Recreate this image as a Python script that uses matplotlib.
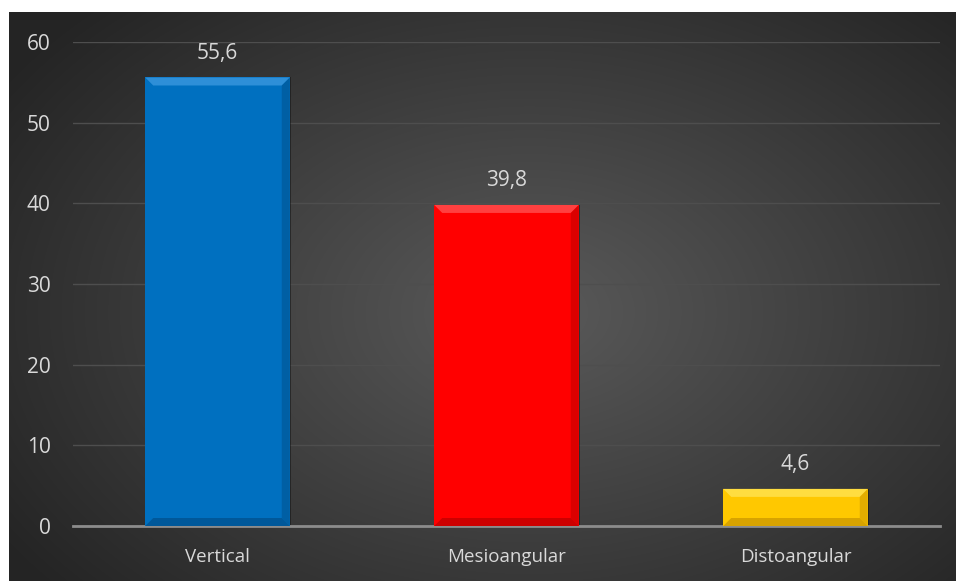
import matplotlib
matplotlib.use("Agg")
import matplotlib.pyplot as plt
import numpy as np
from matplotlib.patches import Polygon, Rectangle

categories = ["Vertical", "Mesioangular", "Distoangular"]
values = [55.6, 39.8, 4.6]
labels = ["55,6", "39,8", "4,6"]
colors = ["#0070C0", "#FF0000", "#FFC800"]
light = ["#2E8FD8", "#FF4040", "#FFDD40"]
dark = ["#004F8A", "#B80000", "#C89400"]
yticks = [0, 10, 20, 30, 40, 50, 60]

plt.rcParams['font.family'] = ['Open Sans', 'DejaVu Sans']
W, H = 956, 581
fig = plt.figure(figsize=(W/100, H/100), dpi=100)
fig.patch.set_facecolor("white")

# background with radial gradient
bg = fig.add_axes([9/W, 0, 1 - 9/W, (H-12)/H])
bg.set_axis_off()
yy, xx = np.mgrid[0:569, 0:947]
cx, cy = 520, 300
r = np.sqrt(((xx-cx)/620)**2 + ((yy-cy)/420)**2)
r = np.clip(r, 0, 1)
c0 = np.array([0x5A, 0x5A, 0x5A]) / 255
c1 = np.array([0x25, 0x25, 0x25]) / 255
img = c0[None, None, :] * (1 - r[..., None]) + c1[None, None, :] * r[..., None]
bg.imshow(img, aspect="auto", extent=[0, 1, 0, 1])

ax = fig.add_axes([73/W, (H-526)/H, (940-73)/W, (526-42)/H])
ax.set_facecolor("none")
ax.set_xlim(-0.5, 2.5)
ax.set_ylim(0, 60)
ax.set_yticks(yticks)
ax.set_xticks(range(len(categories)))
ax.set_xticklabels(categories)
for s in ["top", "right", "left"]:
    ax.spines[s].set_visible(False)
ax.spines["bottom"].set_color("#8C8C8C")
ax.spines["bottom"].set_linewidth(2)
ax.tick_params(axis="both", length=0, colors="#D9D9D9")
ax.tick_params(axis="y", pad=16, labelsize=15)
ax.tick_params(axis="x", pad=16, labelsize=13.5)
ax.grid(axis="y", color="#4E4E4E", linewidth=1)
ax.set_axisbelow(True)

bw = 0.5
bx = 8 / 289.0
by = 8 / (484/60)
for i, (v, c, lc, dc, lab) in enumerate(zip(values, colors, light, dark, labels)):
    x0, x1 = i - bw/2, i + bw/2
    ax.add_patch(Rectangle((x0 + 0.006, 0), bw, v, color="#111111", alpha=0.5, zorder=2, lw=0))
    ax.add_patch(Rectangle((x0, 0), bw, v, facecolor=c, edgecolor="none", zorder=3))
    b = min(by, v*0.25)
    ax.add_patch(Polygon([(x0, v), (x1, v), (x1-bx, v-b), (x0+bx, v-b)], closed=True, facecolor=lc, edgecolor="none", zorder=4))
    ax.add_patch(Polygon([(x1, v), (x1-bx, v-b), (x1-bx, b), (x1, 0)], closed=True, facecolor=dc, edgecolor="none", zorder=4, alpha=0.5))
    ax.add_patch(Polygon([(x0, 0), (x1, 0), (x1-bx, b), (x0+bx, b)], closed=True, facecolor=dc, edgecolor="none", zorder=4, alpha=0.7))
    ax.text(i, v + 3.0, lab, ha="center", va="center", color="#D9D9D9", fontsize=15, zorder=5)

fig.savefig("out.png", dpi=100, facecolor=fig.get_facecolor())
